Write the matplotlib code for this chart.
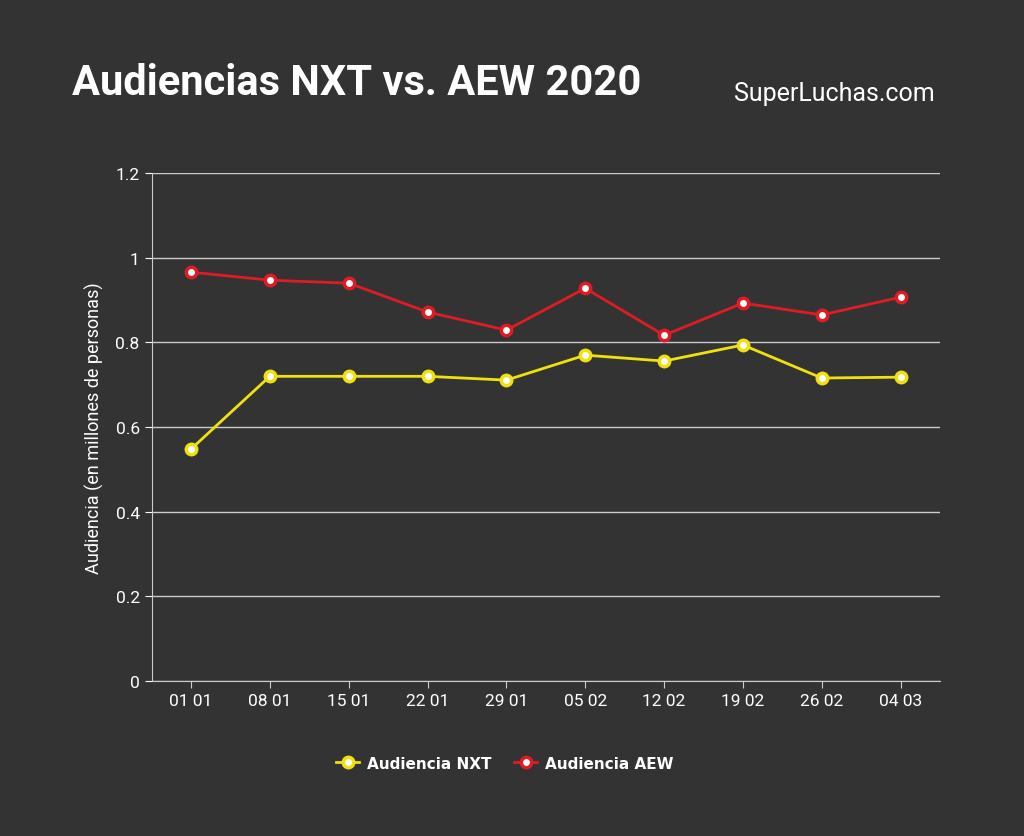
import matplotlib
matplotlib.use("Agg")
import matplotlib.pyplot as plt
from matplotlib import font_manager

fams = {f.name for f in font_manager.fontManager.ttflist}
cond = "Liberation Sans Narrow" if "Liberation Sans Narrow" in fams else "Roboto"

dates = ["01 01", "08 01", "15 01", "22 01", "29 01", "05 02", "12 02", "19 02", "26 02", "04 03"]
nxt = [0.548, 0.720, 0.720, 0.720, 0.711, 0.770, 0.756, 0.794, 0.716, 0.718]
aew = [0.966, 0.947, 0.940, 0.872, 0.829, 0.928, 0.817, 0.893, 0.865, 0.907]
yticks = [0, 0.2, 0.4, 0.6, 0.8, 1, 1.2]

bg = "#333333"
fig = plt.figure(figsize=(10.24, 8.37), dpi=100, facecolor=bg)
ax = fig.add_axes([0.148, 0.185, 0.77, 0.607], facecolor=bg)
x = range(len(dates))
ax.plot(x, nxt, color="#f0e010", lw=2, marker="o", ms=7.5, mfc="white", mec="#f0e010", mew=2.5,
        label="Audiencia NXT", zorder=3)
ax.plot(x, aew, color="#e01b23", lw=2, marker="o", ms=7.5, mfc="white", mec="#e01b23", mew=2.5,
        label="Audiencia AEW", zorder=3)
ax.set_xlim(-0.5, len(dates) - 0.5)
ax.set_ylim(0, 1.2)
ax.set_yticks(yticks)
ax.set_yticklabels(["0", "0.2", "0.4", "0.6", "0.8", "1", "1.2"])
ax.set_xticks(list(x))
ax.set_xticklabels(dates)
ax.grid(axis="y", color="#cccccc", lw=1)
for s in ["top", "right"]:
    ax.spines[s].set_visible(False)
for s in ["left", "bottom"]:
    ax.spines[s].set_color("#cccccc")
ax.tick_params(colors="white", labelsize=12, length=5)
ax.tick_params(axis="x", colors="#cccccc", labelcolor="white")
for t in ax.get_xticklabels() + ax.get_yticklabels():
    t.set_fontfamily(cond)
    t.set_fontsize(12.5)
ax.set_ylabel("Audiencia (en millones de personas)", color="white", fontsize=13, fontfamily=cond,
              labelpad=8)
fig.text(0.07, 0.9, "Audiencias NXT vs. AEW 2020", color="white", fontsize=30,
         fontweight="bold", fontfamily=cond, va="center")
fig.text(0.717, 0.888, "SuperLuchas.com", color="white", fontsize=18, fontfamily=cond, va="center")
leg = fig.legend(loc="center", bbox_to_anchor=(0.493, 0.087), ncol=2, frameon=False,
                 labelcolor="white", prop={"weight": "bold", "size": 11}, handlelength=1.5,
                 columnspacing=1.5, handletextpad=0.5)
fig.savefig("out.png", facecolor=bg)
